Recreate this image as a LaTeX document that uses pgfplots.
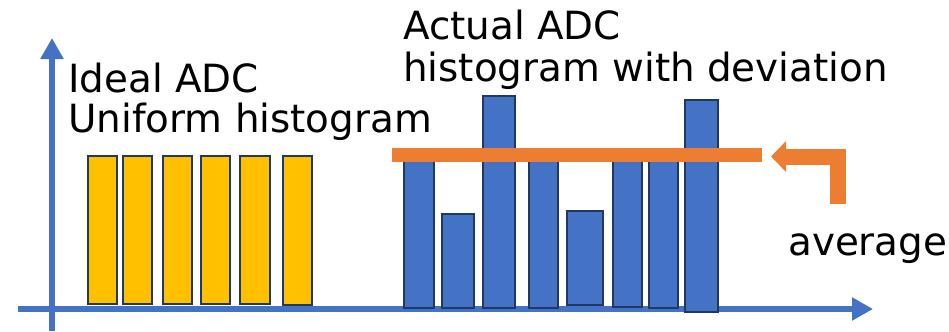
\documentclass[border=0pt]{standalone}
\usepackage{pgfplots}
\pgfplotsset{compat=1.18}
\usepackage{fontspec}
\setmainfont{DejaVu Sans}
\usetikzlibrary{arrows.meta}
\definecolor{ayellow}{HTML}{FFC000}
\definecolor{ablue}{HTML}{4472C4}
\definecolor{anavy}{HTML}{1F3864}
\definecolor{aorange}{HTML}{ED7D31}
\begin{document}
\begin{tikzpicture}
\begin{axis}[
  x=1bp, y=1bp,
  axis lines=middle,
  xmin=-34, xmax=821, ymin=-22, ymax=271,
  xtick=\empty, ytick=\empty,
  axis line style={draw=ablue, line width=5.5bp, -{Triangle[length=21bp,width=22bp]}},
  clip=false,
  yb/.style={fill=ayellow, draw=anavy, line width=2.8bp, mark=none},
  bb/.style={fill=ablue, draw=anavy, line width=2.8bp, mark=none},
]
% ideal ADC (uniform) bars
\addplot[yb] coordinates {(36,5)(36,153)(65,153)(65,5)} -- cycle;
\addplot[yb] coordinates {(71,5)(71,153)(100,153)(100,5)} -- cycle;
\addplot[yb] coordinates {(111,5)(111,153)(140,153)(140,5)} -- cycle;
\addplot[yb] coordinates {(149,5)(149,153)(178,153)(178,5)} -- cycle;
\addplot[yb] coordinates {(188,5)(188,153)(218,153)(218,5)} -- cycle;
\addplot[yb] coordinates {(231,4)(231,153)(260,153)(260,4)} -- cycle;
% actual ADC bars
\addplot[bb] coordinates {(352,1)(352,155)(382,155)(382,1)} -- cycle;
\addplot[bb] coordinates {(390,1)(390,95)(422,95)(422,1)} -- cycle;
\addplot[bb] coordinates {(431,1)(431,213)(463,213)(463,1)} -- cycle;
\addplot[bb] coordinates {(477,1)(477,155)(506,155)(506,1)} -- cycle;
\addplot[bb] coordinates {(515,4)(515,98)(551,98)(551,4)} -- cycle;
\addplot[bb] coordinates {(561,2)(561,155)(590,155)(590,2)} -- cycle;
\addplot[bb] coordinates {(597,1)(597,155)(626,155)(626,1)} -- cycle;
\addplot[bb] coordinates {(633,-3)(633,209)(666,209)(666,-3)} -- cycle;
% average line
\addplot[aorange, line width=14.5bp, mark=none] coordinates {(340,154)(710,154)};
% bent arrow
\addplot[aorange, line width=16bp, mark=none, line join=miter,
  -{Triangle[length=15bp,width=30bp]}] coordinates {(786,105)(786,152.5)(719,152.5)};
% texts
\node[anchor=base west, inner sep=0pt, font=\fontsize{39}{46}\selectfont] at (axis cs:16,217) {Ideal ADC};
\node[anchor=base west, inner sep=0pt, font=\fontsize{39}{46}\selectfont] at (axis cs:16,177) {Uniform histogram};
\node[anchor=base west, inner sep=0pt, font=\fontsize{39}{46}\selectfont] at (axis cs:351,270) {Actual ADC};
\node[anchor=base west, inner sep=0pt, font=\fontsize{39}{46}\selectfont] at (axis cs:351,228) {histogram with deviation};
\node[anchor=base west, inner sep=0pt, font=\fontsize{39}{46}\selectfont] at (axis cs:736,54) {average};
\coordinate (bl) at (axis cs:-52,-22);
\coordinate (tr) at (axis cs:897,309);
\end{axis}
\pgfresetboundingbox
\useasboundingbox (bl) rectangle (tr);
\end{tikzpicture}
\end{document}
